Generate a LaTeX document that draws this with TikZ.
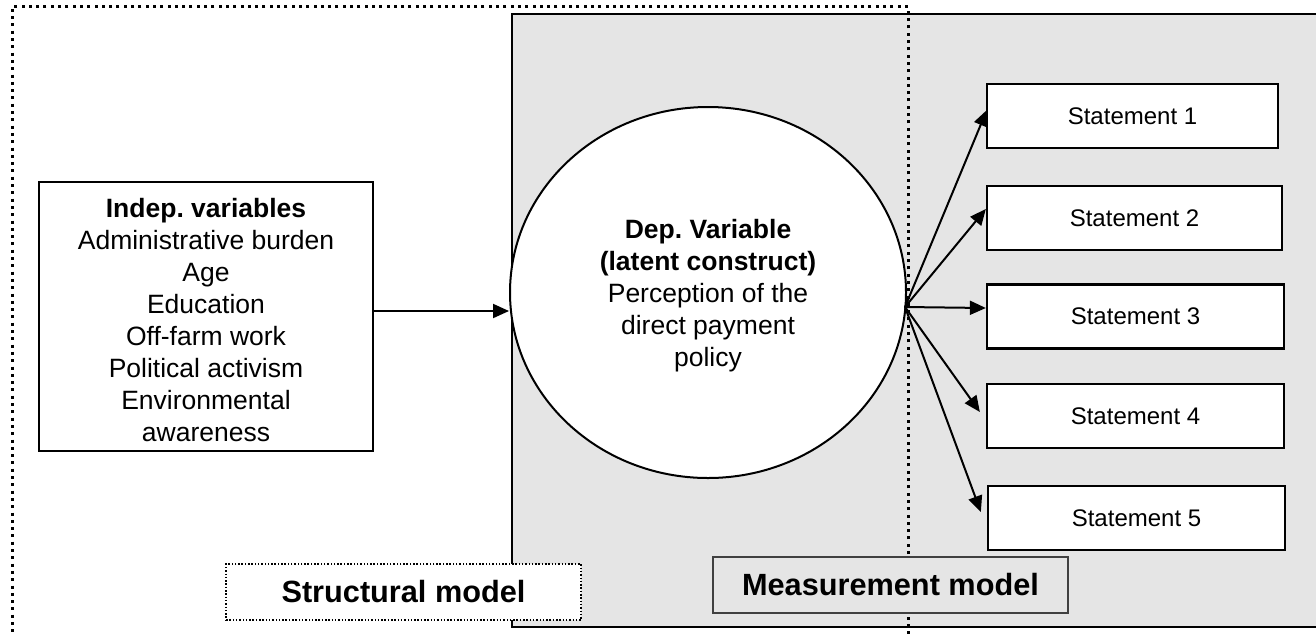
\documentclass[tikz,border=0pt]{standalone}
\usepackage{fontspec}
\setmainfont{Liberation Sans}
\usetikzlibrary{arrows.meta,shapes.geometric}
\definecolor{bggray}{HTML}{E5E5E5}
\frenchspacing
\begin{document}
\begin{tikzpicture}[x=1pt,y=-1pt,
  arr/.style={line width=2pt,-{Triangle[length=16pt,width=14pt]}},
  stmt/.style={draw,line width=2.3pt,fill=white,inner sep=0pt,minimum height=64pt,
    font=\fontsize{24}{28}\selectfont},
  lbl/.style={inner sep=0pt,minimum width=355pt,minimum height=56pt,
    font=\fontsize{30.7}{36}\selectfont\bfseries},
  bigtext/.style={font=\fontsize{26.5}{31.9}\selectfont,align=center}]
\clip (0,0) rectangle (1316,633);
% measurement model area
\draw[line width=2pt,fill=bggray] (512,14) rectangle (1340,627);
% structural model frame
\draw[line width=3pt,dash pattern=on 3pt off 4.3pt] (908,700) -- (908,6.7) -- (12,6.7) -- (12,700);
% independent variables
\node[draw,line width=2.5pt,fill=white,inner sep=0pt,minimum width=334pt,minimum height=269pt,bigtext]
  (indep) at (206,316.5)
  {\rule{0pt}{26pt}\textbf{Indep. variables}\\Administrative burden\\Age\\Education\\Off-farm work\\Political activism\\Environmental\\awareness};
% dependent variable
\node[ellipse,draw,line width=2pt,fill=white,inner sep=0pt,minimum width=396pt,minimum height=371pt,
  font=\fontsize{26.5}{32.2}\selectfont,align=center]
  (dep) at (708,292.5)
  {\rule{0pt}{25.4pt}\textbf{Dep. Variable}\\\textbf{(latent construct)}\\Perception of the\\direct payment\\policy};
% statements
\node[stmt,minimum width=291pt] (s1) at (1132.5,116) {Statement 1};
\node[stmt,minimum width=295pt] (s2) at (1134.5,218) {Statement 2};
\node[stmt,minimum width=297pt] (s3) at (1135.5,316.5) {Statement 3};
\node[stmt,minimum width=297pt] (s4) at (1135.5,416) {Statement 4};
\node[stmt,minimum width=297pt] (s5) at (1136.5,518) {Statement 5};
% arrows
\draw[arr] ([yshift=5.5pt]indep.east) -- ([yshift=5.5pt]indep.east -| dep.west);
\coordinate (src) at ([yshift=-14.5pt,xshift=-2pt]dep.east);
\draw[arr] (src) -- ([xshift=1pt,yshift=6pt]s1.west);
\draw[arr] (src) -- ([yshift=9pt]s2.west);
\draw[arr] (src) -- ([yshift=8.5pt]s3.west);
\draw[arr] (src) -- ([xshift=-6pt,yshift=4pt]s4.west);
\draw[arr] (src) -- ([xshift=-6pt,yshift=6pt]s5.west);
% labels
\node[lbl,draw,fill=white,line width=1.5pt,dash pattern=on 1.5pt off 1.8pt] (structlbl) at (403.5,592) {Structural model};
\node[lbl,draw=black!75,fill=bggray,line width=1.3pt] (measlbl) at (890.5,585) {Measurement model};
\end{tikzpicture}
\end{document}
